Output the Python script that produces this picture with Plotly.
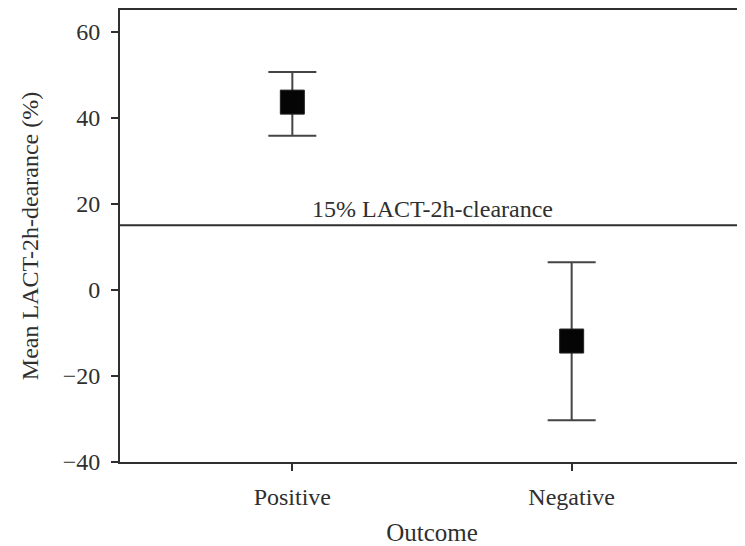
import plotly.graph_objects as go

categories = ["Positive", "Negative"]
means = [43.6, -11.9]
upper = [50.6, 6.4]
lower = [35.8, -30.3]
threshold = 15
threshold_label = "15% LACT-2h-clearance"
y_ticks = [-40, -20, 0, 20, 40, 60]
y_tick_labels = ["\u221240", "\u221220", "0", "20", "40", "60"]

x_idx = list(range(len(categories)))
err_plus = [u - m for u, m in zip(upper, means)]
err_minus = [m - l for m, l in zip(means, lower)]

FONT = "Liberation Serif, Times New Roman, serif"
INK = "#2f2f2f"

fig = go.Figure()
fig.add_trace(go.Scatter(
    x=x_idx, y=means, mode="markers",
    marker=dict(symbol="square", size=24, color="#050505", line=dict(width=1, color="#222")),
    error_y=dict(type="data", symmetric=False, array=err_plus, arrayminus=err_minus,
                 color="#444444", thickness=2, width=24),
    showlegend=False, hoverinfo="skip",
))

fig.add_shape(type="line", xref="paper", x0=0, x1=1, yref="y", y0=threshold, y1=threshold,
              line=dict(color=INK, width=2))
fig.add_annotation(x=0.5, y=threshold, xref="x", yref="y", text=threshold_label,
                   showarrow=False, yanchor="bottom", yshift=1,
                   font=dict(family=FONT, size=24, color=INK))

# page body has an 8px default margin; size the figure so the plot box lands where the reference has it
fig.update_layout(
    width=737, height=538,
    margin=dict(l=112, r=1, t=2, b=84, autoexpand=False),
    paper_bgcolor="white", plot_bgcolor="white",
    font=dict(family=FONT, size=24, color=INK),
)
fig.update_xaxes(
    range=[-0.617, 1.617], tickvals=x_idx, ticktext=categories,
    showline=True, linecolor=INK, linewidth=2, mirror=True,
    ticks="outside", ticklen=7, tickwidth=2, tickcolor=INK,
    showgrid=False, zeroline=False, automargin=False,
    ticklabelstandoff=5,
    tickfont=dict(family=FONT, size=24, color=INK),
    title=dict(text="Outcome", standoff=19, font=dict(family=FONT, size=25, color=INK)),
)
fig.update_yaxes(
    range=[-40, 65], tickvals=y_ticks, ticktext=y_tick_labels,
    showline=True, linecolor=INK, linewidth=2, mirror=True,
    ticks="outside", ticklen=7, tickwidth=2, tickcolor=INK,
    showgrid=False, zeroline=False, automargin=False,
    ticklabelstandoff=6,
    tickfont=dict(family=FONT, size=24, color=INK),
    title=dict(text="Mean LACT-2h-dearance (%)", standoff=17, font=dict(family=FONT, size=24, color=INK)),
)

fig.write_html("out.html")
